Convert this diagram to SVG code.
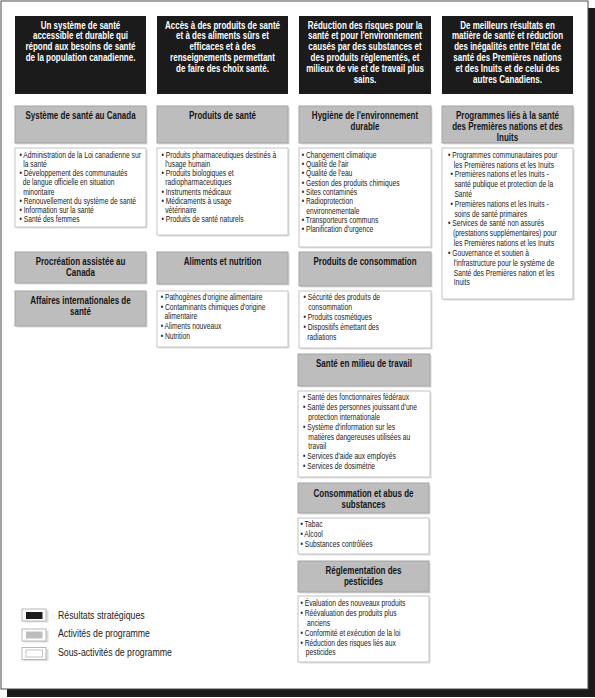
<svg xmlns="http://www.w3.org/2000/svg" width="595" height="698" viewBox="0 0 595 698">
<style>
.h{font-family:"Liberation Sans",Arial,sans-serif;font-weight:bold;font-size:10px;fill:#ffffff;text-anchor:middle}
.t{font-family:"Liberation Sans",Arial,sans-serif;font-weight:bold;font-size:10px;fill:#151515;text-anchor:middle}
.b{font-family:"Liberation Sans",Arial,sans-serif;font-size:8.2px;fill:#222222}
.lg{font-family:"Liberation Sans",Arial,sans-serif;font-size:10.7px;fill:#222222}
.so{fill:#1b1b1b}
.pa{fill:#bdbdbd;stroke:#a5a5a5;stroke-width:1}
.sa{fill:#ffffff;stroke:#c4c4c4;stroke-width:1}
.sh{fill:#dcdcdc}
</style>
<g id="frame">
<rect x="7" y="8" width="588" height="689" fill="#1a1a1a"/>
<rect x="1" y="1" width="587" height="688" fill="#ffffff" stroke="#4a4a4a" stroke-width="1"/>
</g>

<!-- Column 1 -->
<g id="so1">
<rect class="so" x="15" y="16" width="131" height="78"/>
<text class="h" transform="translate(80.5,0) scale(0.8,1)"><tspan x="0" y="28.6">Un système de santé</tspan><tspan x="0" y="39.5">accessible et durable qui</tspan><tspan x="0" y="50.4">répond aux besoins de santé</tspan><tspan x="0" y="61.3">de la population canadienne.</tspan></text>
</g>
<g id="pa-systeme">
<rect class="sh" x="16.5" y="107.5" width="131" height="37"/>
<rect class="pa" x="15" y="106" width="131" height="37"/>
<text class="t" transform="translate(80.5,0) scale(0.8,1)"><tspan x="0" y="119.4">Système de santé au Canada</tspan></text>
</g>
<g id="sa-systeme">
<rect class="sh" x="16.5" y="149.5" width="131" height="79"/>
<rect class="sa" x="15" y="148" width="131" height="79"/>
<text class="b" transform="translate(19.5,0) scale(0.82,1)"><tspan x="0" y="157.8">• Administration de la Loi canadienne sur</tspan><tspan x="4.6" y="167">la santé</tspan><tspan x="0" y="176.2">• Développement des communautés</tspan><tspan x="4" y="185.4">de langue officielle en situation</tspan><tspan x="4.6" y="194.6">minoritaire</tspan><tspan x="0" y="203.8">• Renouvellement du système de santé</tspan><tspan x="0" y="213">• Information sur la santé</tspan><tspan x="0" y="222.2">• Santé des femmes</tspan></text>
</g>
<g id="pa-procreation">
<rect class="sh" x="16.5" y="253.5" width="131" height="31"/>
<rect class="pa" x="15" y="252" width="131" height="31"/>
<text class="t" transform="translate(80.5,0) scale(0.8,1)"><tspan x="0" y="265.3">Procréation assistée au</tspan><tspan x="0" y="276.2">Canada</tspan></text>
</g>
<g id="pa-affaires">
<rect class="sh" x="16.5" y="292.5" width="131" height="35"/>
<rect class="pa" x="15" y="291" width="131" height="35"/>
<text class="t" transform="translate(80.5,0) scale(0.8,1)"><tspan x="0" y="304.3">Affaires internationales de</tspan><tspan x="0" y="315.2">santé</tspan></text>
</g>

<!-- Column 2 -->
<g id="so2">
<rect class="so" x="157" y="16" width="131" height="78"/>
<text class="h" transform="translate(222.5,0) scale(0.8,1)"><tspan x="0" y="28.6">Accès à des produits de santé</tspan><tspan x="0" y="39.5">et à des aliments sûrs et</tspan><tspan x="0" y="50.4">efficaces et à des</tspan><tspan x="0" y="61.3">renseignements permettant</tspan><tspan x="0" y="72.2">de faire des choix santé.</tspan></text>
</g>
<g id="pa-produits-sante">
<rect class="sh" x="158.5" y="107.5" width="131" height="37"/>
<rect class="pa" x="157" y="106" width="131" height="37"/>
<text class="t" transform="translate(222.5,0) scale(0.8,1)"><tspan x="0" y="119.4">Produits de santé</tspan></text>
</g>
<g id="sa-produits-sante">
<rect class="sh" x="158.5" y="149.5" width="131" height="87"/>
<rect class="sa" x="157" y="148" width="131" height="87"/>
<text class="b" transform="translate(161.5,0) scale(0.82,1)"><tspan x="0" y="157.8">• Produits pharmaceutiques destinés à</tspan><tspan x="4.6" y="167">l'usage humain</tspan><tspan x="0" y="176.2">• Produits biologiques et</tspan><tspan x="4.6" y="185.4">radiopharmaceutiques</tspan><tspan x="0" y="194.6">• Instruments médicaux</tspan><tspan x="0" y="203.8">• Médicaments à usage</tspan><tspan x="4.6" y="213">vétérinaire</tspan><tspan x="0" y="222.2">• Produits de santé naturels</tspan></text>
</g>
<g id="pa-aliments">
<rect class="sh" x="158.5" y="253.5" width="131" height="32"/>
<rect class="pa" x="157" y="252" width="131" height="32"/>
<text class="t" transform="translate(222.5,0) scale(0.8,1)"><tspan x="0" y="265.3">Aliments et nutrition</tspan></text>
</g>
<g id="sa-aliments">
<rect class="sh" x="158.5" y="292.5" width="131" height="56"/>
<rect class="sa" x="157" y="291" width="131" height="56"/>
<text class="b" transform="translate(160.7,0) scale(0.82,1)"><tspan x="0" y="300">• Pathogènes d'origine alimentaire</tspan><tspan x="0" y="309.7">• Contaminants chimiques d'origine</tspan><tspan x="4.6" y="319.4">alimentaire</tspan><tspan x="0" y="329.1">• Aliments nouveaux</tspan><tspan x="0" y="338.8">• Nutrition</tspan></text>
</g>

<!-- Column 3 -->
<g id="so3">
<rect class="so" x="299" y="16" width="132" height="78"/>
<text class="h" transform="translate(365,0) scale(0.8,1)"><tspan x="0" y="28.6">Réduction des risques pour la</tspan><tspan x="0" y="39.5">santé et pour l'environnement</tspan><tspan x="0" y="50.4">causés par des substances et</tspan><tspan x="0" y="61.3">des produits réglementés, et</tspan><tspan x="0" y="72.2">milieux de vie et de travail plus</tspan><tspan x="0" y="83.1">sains.</tspan></text>
</g>
<g id="pa-hygiene">
<rect class="sh" x="300.5" y="107.5" width="132" height="37"/>
<rect class="pa" x="299" y="106" width="132" height="37"/>
<text class="t" transform="translate(365,0) scale(0.8,1)"><tspan x="0" y="119.4">Hygiène de l'environnement</tspan><tspan x="0" y="130.3">durable</tspan></text>
</g>
<g id="sa-hygiene">
<rect class="sh" x="300.5" y="149.5" width="132" height="99"/>
<rect class="sa" x="299" y="148" width="132" height="99"/>
<text class="b" transform="translate(301.7,0) scale(0.82,1)"><tspan x="0" y="157.8">• Changement climatique</tspan><tspan x="0" y="167.1">• Qualité de l'air</tspan><tspan x="0" y="176.4">• Qualité de l'eau</tspan><tspan x="0" y="185.7">• Gestion des produits chimiques</tspan><tspan x="0" y="195">• Sites contaminés</tspan><tspan x="0" y="204.3">• Radioprotection</tspan><tspan x="5.5" y="213.6">environnementale</tspan><tspan x="0" y="222.9">• Transporteurs communs</tspan><tspan x="0" y="232.2">• Planification d'urgence</tspan></text>
</g>
<g id="pa-consommation">
<rect class="sh" x="300.5" y="253.5" width="132" height="34"/>
<rect class="pa" x="299" y="252" width="132" height="34"/>
<text class="t" transform="translate(365,0) scale(0.8,1)"><tspan x="0" y="265.3">Produits de consommation</tspan></text>
</g>
<g id="sa-consommation">
<rect class="sh" x="300.5" y="292.5" width="132" height="57"/>
<rect class="sa" x="299" y="291" width="132" height="57"/>
<text class="b" transform="translate(303.5,0) scale(0.82,1)"><tspan x="0" y="300">• Sécurité des produits de</tspan><tspan x="5.8" y="310">consommation</tspan><tspan x="0" y="320">• Produits cosmétiques</tspan><tspan x="0" y="330">• Dispositifs émettant des</tspan><tspan x="4.6" y="340">radiations</tspan></text>
</g>
<g id="pa-travail">
<rect class="sh" x="299.5" y="355.5" width="132" height="32"/>
<rect class="pa" x="298" y="354" width="132" height="32"/>
<text class="t" transform="translate(364,0) scale(0.8,1)"><tspan x="0" y="367.5">Santé en milieu de travail</tspan></text>
</g>
<g id="sa-travail">
<rect class="sh" x="299.5" y="392.5" width="132" height="86"/>
<rect class="sa" x="298" y="391" width="132" height="86"/>
<text class="b" transform="translate(303,0) scale(0.82,1)"><tspan x="0" y="400">• Santé des fonctionnaires fédéraux</tspan><tspan x="0" y="409.9">• Santé des personnes jouissant d'une</tspan><tspan x="6.5" y="419.8">protection internationale</tspan><tspan x="0" y="429.7">• Système d'information sur les</tspan><tspan x="6.5" y="439.6">matières dangereuses utilisées au</tspan><tspan x="6.5" y="449.5">travail</tspan><tspan x="0" y="459.4">• Services d'aide aux employés</tspan><tspan x="0" y="469.3">• Services de dosimétrie</tspan></text>
</g>
<g id="pa-abus">
<rect class="sh" x="299.5" y="484.5" width="131" height="30"/>
<rect class="pa" x="298" y="483" width="131" height="30"/>
<text class="t" transform="translate(363.5,0) scale(0.8,1)"><tspan x="0" y="497">Consommation et abus de</tspan><tspan x="0" y="507.8">substances</tspan></text>
</g>
<g id="sa-abus">
<rect class="sh" x="299.5" y="519.5" width="131" height="36"/>
<rect class="sa" x="298" y="518" width="131" height="36"/>
<text class="b" transform="translate(300.5,0) scale(0.82,1)"><tspan x="0" y="527">• Tabac</tspan><tspan x="0" y="537">• Alcool</tspan><tspan x="0" y="547">• Substances contrôlées</tspan></text>
</g>
<g id="pa-pesticides">
<rect class="sh" x="299.5" y="562.5" width="131" height="31"/>
<rect class="pa" x="298" y="561" width="131" height="31"/>
<text class="t" transform="translate(363.5,0) scale(0.8,1)"><tspan x="0" y="573.7">Réglementation des</tspan><tspan x="0" y="584.7">pesticides</tspan></text>
</g>
<g id="sa-pesticides">
<rect class="sh" x="299.5" y="597.5" width="131" height="66"/>
<rect class="sa" x="298" y="596" width="131" height="66"/>
<text class="b" transform="translate(300.5,0) scale(0.82,1)"><tspan x="0" y="606">• Évaluation des nouveaux produits</tspan><tspan x="0" y="615.9">• Réévaluation des produits plus</tspan><tspan x="8" y="625.8">anciens</tspan><tspan x="0" y="635.7">• Conformité et exécution de la loi</tspan><tspan x="0" y="645.6">• Réduction des risques liés aux</tspan><tspan x="6.5" y="655.5">pesticides</tspan></text>
</g>

<!-- Column 4 -->
<g id="so4">
<rect class="so" x="442" y="16" width="131" height="78"/>
<text class="h" transform="translate(507.5,0) scale(0.8,1)"><tspan x="0" y="28.6">De meilleurs résultats en</tspan><tspan x="0" y="39.5">matière de santé et réduction</tspan><tspan x="0" y="50.4">des inégalités entre l'état de</tspan><tspan x="0" y="61.3">santé des Premières nations</tspan><tspan x="0" y="72.2">et des Inuits et de celui des</tspan><tspan x="0" y="83.1">autres Canadiens.</tspan></text>
</g>
<g id="pa-premieres-nations">
<rect class="sh" x="443.5" y="107.5" width="131" height="37"/>
<rect class="pa" x="442" y="106" width="131" height="37"/>
<text class="t" transform="translate(507.5,0) scale(0.8,1)"><tspan x="0" y="119.4">Programmes liés à la santé</tspan><tspan x="0" y="130.3">des Premières nations et des</tspan><tspan x="0" y="141.1">Inuits</tspan></text>
</g>
<g id="sa-premieres-nations">
<rect class="sh" x="443.5" y="149.5" width="131" height="151"/>
<rect class="sa" x="442" y="148" width="131" height="151"/>
<text class="b" transform="translate(448,0) scale(0.82,1)"><tspan x="0" y="157.8">• Programmes communautaires pour</tspan><tspan x="7" y="167.6">les Premières nations et les Inuits</tspan><tspan x="3" y="177.4">• Premières nations et les Inuits -</tspan><tspan x="7.8" y="187.3">santé publique et protection de la</tspan><tspan x="7.8" y="197.1">Santé</tspan><tspan x="3" y="206.9">• Premières nations et les Inuits -</tspan><tspan x="7.8" y="216.7">soins de santé primaires</tspan><tspan x="0" y="226.5">• Services de santé non assurés</tspan><tspan x="6" y="236.4">(prestations supplémentaires) pour</tspan><tspan x="7" y="246.2">les Premières nations et les Inuits</tspan><tspan x="0" y="256">• Gouvernance et soutien à</tspan><tspan x="7" y="265.8">l'infrastructure pour le système de</tspan><tspan x="7" y="275.6">Santé des Premières nation et les</tspan><tspan x="7" y="285.4">Inuits</tspan></text>
</g>

<!-- Legend -->
<g id="legend">
<rect class="sh" x="23.5" y="610.5" width="25" height="12"/>
<rect x="22" y="609" width="24" height="12" fill="#ffffff" stroke="#b8b8b8" stroke-width="1"/>
<rect x="26" y="612" width="16.5" height="7" fill="#1b1b1b"/>
<text class="lg" transform="translate(58,0) scale(0.82,1)"><tspan x="0" y="618.7">Résultats stratégiques</tspan></text>
<rect class="sh" x="23.5" y="630.5" width="25" height="12"/>
<rect x="22" y="629" width="24" height="12" fill="#ffffff" stroke="#b8b8b8" stroke-width="1"/>
<rect x="26" y="631.5" width="16.5" height="7" fill="#bdbdbd"/>
<text class="lg" transform="translate(58,0) scale(0.82,1)"><tspan x="0" y="637">Activités de programme</tspan></text>
<rect class="sh" x="23.5" y="649" width="25" height="12"/>
<rect x="22" y="647.5" width="24" height="12" fill="#ffffff" stroke="#b8b8b8" stroke-width="1"/>
<rect x="26" y="650" width="16.5" height="7" fill="#ffffff" stroke="#c4c4c4" stroke-width="1"/>
<text class="lg" transform="translate(58,0) scale(0.82,1)"><tspan x="0" y="656">Sous-activités de programme</tspan></text>
</g>
</svg>
